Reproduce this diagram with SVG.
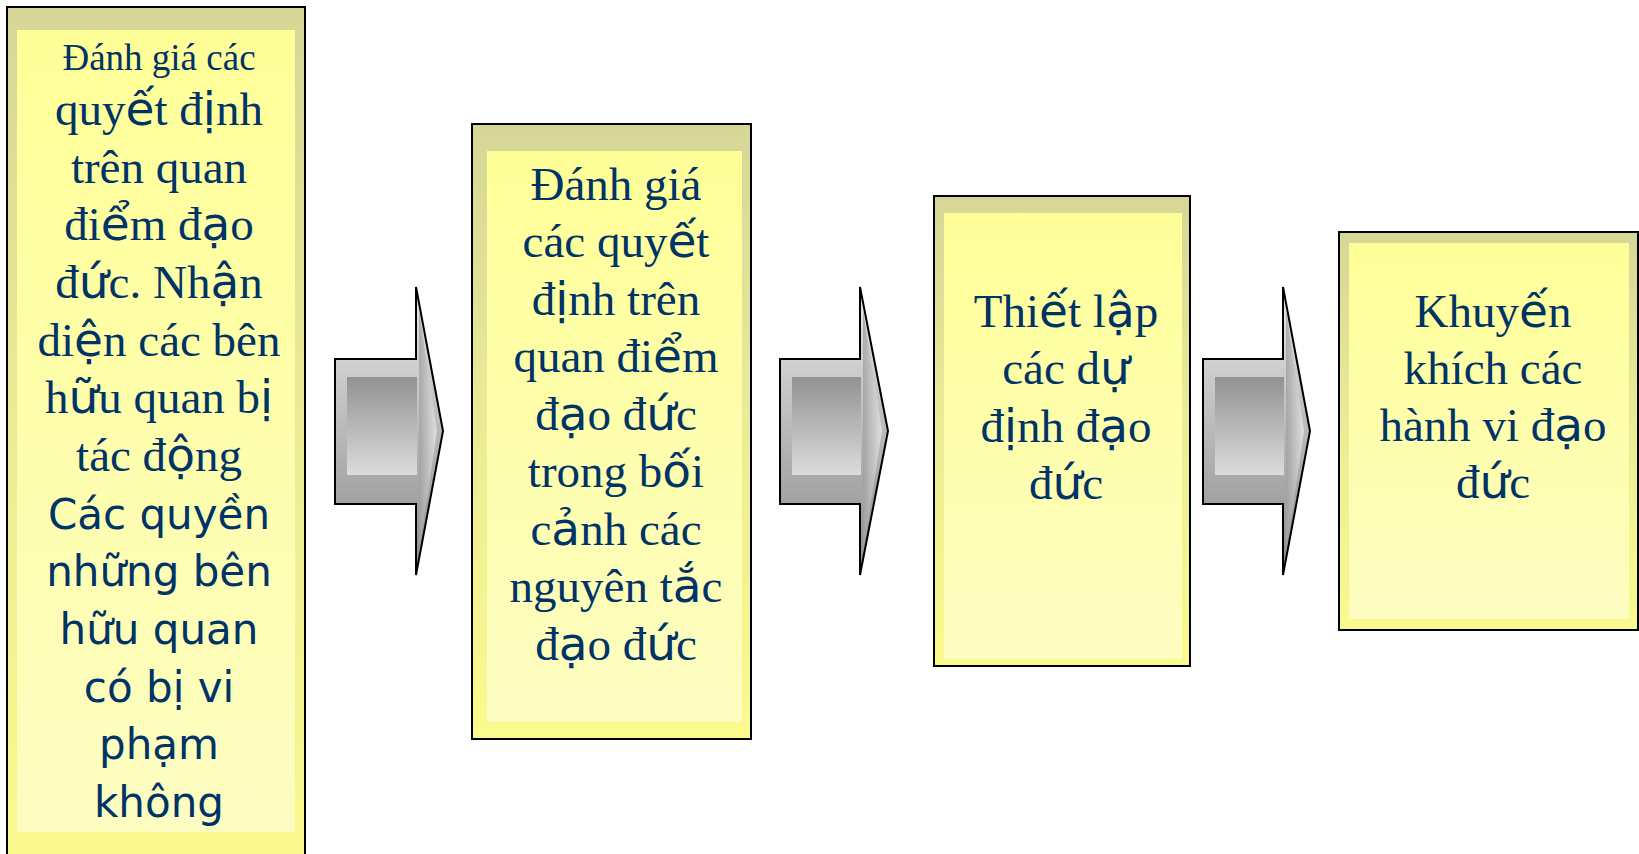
<svg xmlns="http://www.w3.org/2000/svg" width="1639" height="854" viewBox="0 0 1639 854">
<defs>
<linearGradient id="gOuter" x1="0" y1="0" x2="0" y2="1">
<stop offset="0" stop-color="#d6d698"/>
<stop offset="0.5" stop-color="#ecec96"/>
<stop offset="1" stop-color="#fafa8e"/>
</linearGradient>
<linearGradient id="gInner" x1="0" y1="0" x2="0" y2="1">
<stop offset="0" stop-color="#ffff98"/>
<stop offset="1" stop-color="#fdfdc2"/>
</linearGradient>
<linearGradient id="gArrow" x1="0" y1="0" x2="0" y2="1">
<stop offset="0" stop-color="#e8e8e8"/>
<stop offset="1" stop-color="#8a8a8a"/>
</linearGradient>
<linearGradient id="gArrowIn" x1="0" y1="0" x2="0" y2="1">
<stop offset="0" stop-color="#929292"/>
<stop offset="1" stop-color="#dcdcdc"/>
</linearGradient>
<linearGradient id="gHead" x1="0" y1="0" x2="1" y2="0">
<stop offset="0" stop-color="#a0a0a0"/>
<stop offset="1" stop-color="#e8e8e8"/>
</linearGradient>
</defs>
<style>
.outer{fill:url(#gOuter);stroke:#000;stroke-width:2}
.inner{fill:url(#gInner)}
.arrow{fill:url(#gArrow);stroke:#000;stroke-width:2;stroke-linejoin:miter}
.arrowIn{fill:url(#gArrowIn)}
.head{fill:url(#gHead);opacity:0.8}
.t{font-family:"Liberation Serif","DejaVu Serif",serif;font-size:47px;fill:#003366;text-anchor:middle}
.t1{font-size:37px}
.s{font-family:"DejaVu Sans","Liberation Sans",sans-serif;font-size:42px;fill:#003366;text-anchor:middle}
.f{font-family:"DejaVu Sans","Liberation Sans",sans-serif}
</style>
<rect width="1639" height="854" fill="#ffffff"/>

<g id="connectors">
<g id="arrow1">
<polygon class="arrow" points="335,359 416,359 416,287 443,431 416,575 416,504 335,504"/>
<rect class="arrowIn" x="347" y="377" width="70" height="98"/>
<polygon class="head" points="419,310 437,431 419,552"/>
</g>
<g id="arrow2">
<polygon class="arrow" points="780,359 860,359 860,287 888,431 860,575 860,504 780,504"/>
<rect class="arrowIn" x="792" y="377" width="69" height="98"/>
<polygon class="head" points="863,310 882,431 863,552"/>
</g>
<g id="arrow3">
<polygon class="arrow" points="1203,359 1283,359 1283,287 1310,431 1283,575 1283,504 1203,504"/>
<rect class="arrowIn" x="1215" y="377" width="69" height="98"/>
<polygon class="head" points="1286,310 1304,431 1286,552"/>
</g>
</g>

<g id="node1">
<rect class="outer" x="7" y="7" width="298" height="860"/>
<rect class="inner" x="17" y="30" width="278" height="802"/>
<text class="t t1" x="159" y="70">Đánh giá các</text>
<text class="t" x="159" y="125">quy<tspan class="f">ế</tspan>t đ<tspan class="f">ị</tspan>nh</text>
<text class="t" x="159" y="183">trên quan</text>
<text class="t" x="159" y="240">đi<tspan class="f">ể</tspan>m đ<tspan class="f">ạ</tspan>o</text>
<text class="t" x="159" y="298">đ<tspan class="f">ứ</tspan>c. Nh<tspan class="f">ậ</tspan>n</text>
<text class="t" x="159" y="356">di<tspan class="f">ệ</tspan>n các bên</text>
<text class="t" x="159" y="413">h<tspan class="f">ữ</tspan>u quan b<tspan class="f">ị</tspan></text>
<text class="t" x="159" y="471">tác đ<tspan class="f">ộ</tspan>ng</text>
<text class="s" x="159" y="529">Các quyền</text>
<text class="s" x="159" y="586">những bên</text>
<text class="s" x="159" y="644">hữu quan</text>
<text class="s" x="159" y="702">có bị vi</text>
<text class="s" x="159" y="759">phạm</text>
<text class="s" x="159" y="817">không</text>
</g>

<g id="node2">
<rect class="outer" x="472" y="124" width="279" height="615"/>
<rect class="inner" x="487" y="151" width="255" height="571"/>
<text class="t" x="616" y="200">Đánh giá</text>
<text class="t" x="616" y="257">các quy<tspan class="f">ế</tspan>t</text>
<text class="t" x="616" y="315">đ<tspan class="f">ị</tspan>nh trên</text>
<text class="t" x="616" y="372">quan đi<tspan class="f">ể</tspan>m</text>
<text class="t" x="616" y="430">đ<tspan class="f">ạ</tspan>o đ<tspan class="f">ứ</tspan>c</text>
<text class="t" x="616" y="487">trong b<tspan class="f">ố</tspan>i</text>
<text class="t" x="616" y="545">c<tspan class="f">ả</tspan>nh các</text>
<text class="t" x="616" y="602">nguyên t<tspan class="f">ắ</tspan>c</text>
<text class="t" x="616" y="660">đ<tspan class="f">ạ</tspan>o đ<tspan class="f">ứ</tspan>c</text>
</g>

<g id="node3">
<rect class="outer" x="934" y="196" width="256" height="470"/>
<rect class="inner" x="944" y="213" width="238" height="446"/>
<text class="t" x="1066" y="327">Thi<tspan class="f">ế</tspan>t l<tspan class="f">ậ</tspan>p</text>
<text class="t" x="1066" y="384">các d<tspan class="f">ự</tspan></text>
<text class="t" x="1066" y="442">đ<tspan class="f">ị</tspan>nh đ<tspan class="f">ạ</tspan>o</text>
<text class="t" x="1066" y="499">đ<tspan class="f">ứ</tspan>c</text>
</g>

<g id="node4">
<rect class="outer" x="1339" y="232" width="299" height="398"/>
<rect class="inner" x="1349" y="243" width="280" height="376"/>
<text class="t" x="1493" y="327">Khuy<tspan class="f">ế</tspan>n</text>
<text class="t" x="1493" y="384">khích các</text>
<text class="t" x="1493" y="441">hành vi đ<tspan class="f">ạ</tspan>o</text>
<text class="t" x="1493" y="498">đ<tspan class="f">ứ</tspan>c</text>
</g>
</svg>
